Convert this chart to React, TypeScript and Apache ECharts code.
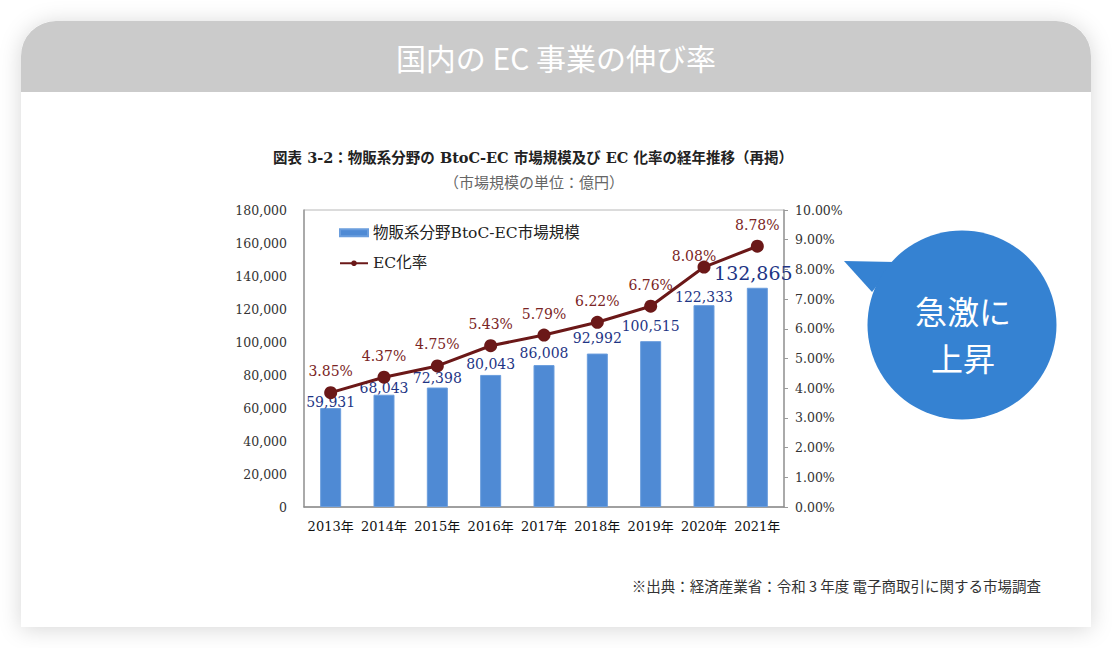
import React, { useEffect, useRef } from "react";
import * as echarts from "echarts";

const categories = ["2013年", "2014年", "2015年", "2016年", "2017年", "2018年", "2019年", "2020年", "2021年"];
const marketSize = [59931, 68043, 72398, 80043, 86008, 92992, 100515, 122333, 132865];
const ecRate = [3.85, 4.37, 4.75, 5.43, 5.79, 6.22, 6.76, 8.08, 8.78];
const barLabelLift = [-1, 0, 3, 4, 5, 9, 8, 1, 5];

const headerTitle = "国内の EC 事業の伸び率";
const chartTitle = "図表 3-2：物販系分野の BtoC-EC 市場規模及び EC 化率の経年推移（再掲）";
const chartSubtitle = "（市場規模の単位：億円）";
const barName = "物販系分野BtoC-EC市場規模";
const lineName = "EC化率";
const sourceText = "※出典：経済産業省：令和 3 年度 電子商取引に関する市場調査";
const calloutLines = ["急激に", "上昇"];

const SERIF = "'DejaVu Serif', 'Noto Sans CJK JP', serif";
const SANS = "'Noto Sans CJK JP', 'Noto Sans', sans-serif";

export default function App() {
  const ref = useRef<HTMLDivElement>(null);
  useEffect(() => {
    if (!ref.current) return;
    const chart = echarts.init(ref.current, null, { renderer: "svg" });
    const fmt = (v: number) => v.toLocaleString("en-US");
    chart.setOption({
      animation: false,
      backgroundColor: "#ffffff",
      graphic: [
        {
          type: "rect",
          z: -10,
          shape: { x: 21, y: 21, width: 1070, height: 606, r: [35, 35, 0, 0] },
          style: { fill: "#ffffff", shadowBlur: 22, shadowColor: "rgba(0,0,0,0.16)", shadowOffsetY: 2 },
        },
        {
          type: "rect",
          z: -9,
          shape: { x: 21, y: 21, width: 1070, height: 71, r: [35, 35, 0, 0] },
          style: { fill: "#cbcbcb" },
        },
        {
          type: "text",
          x: 556,
          y: 57,
          style: {
            text: headerTitle,
            fill: "#ffffff",
            font: `normal 30px ${SANS}`,
            align: "center",
            verticalAlign: "middle",
          },
        },
        {
          type: "text",
          x: 533,
          y: 157,
          style: {
            text: chartTitle,
            fill: "#222222",
            font: `bold 14.5px ${SERIF}`,
            align: "center",
            verticalAlign: "middle",
          },
        },
        {
          type: "text",
          x: 534,
          y: 183,
          style: {
            text: chartSubtitle,
            fill: "#666666",
            font: `normal 15px ${SERIF}`,
            align: "center",
            verticalAlign: "middle",
          },
        },
        {
          type: "text",
          x: 1041,
          y: 585,
          style: {
            text: sourceText,
            fill: "#333333",
            font: `normal 14.5px ${SANS}`,
            align: "right",
            verticalAlign: "middle",
          },
        },
        {
          type: "polygon",
          z: 20,
          shape: { points: [[844, 261], [895, 262], [872, 292]] },
          style: { fill: "#3582d2" },
        },
        {
          type: "circle",
          z: 20,
          shape: { cx: 962, cy: 325, r: 94.5 },
          style: { fill: "#3582d2" },
        },
        {
          type: "text",
          z: 21,
          x: 963,
          y: 310,
          style: {
            text: calloutLines[0],
            fill: "#ffffff",
            font: `normal 32px ${SANS}`,
            align: "center",
            verticalAlign: "middle",
          },
        },
        {
          type: "text",
          z: 21,
          x: 963,
          y: 357,
          style: {
            text: calloutLines[1],
            fill: "#ffffff",
            font: `normal 32px ${SANS}`,
            align: "center",
            verticalAlign: "middle",
          },
        },
      ],
      legend: {
        orient: "vertical",
        left: 334,
        top: 220,
        itemGap: 15,
        itemWidth: 28,
        itemHeight: 7,
        textStyle: { fontFamily: SERIF, fontSize: 15.5, color: "#222222" },
        data: [
          { name: barName, icon: "rect", itemStyle: { color: "#4f8ad4" } },
          { name: lineName },
        ],
      },
      grid: {
        left: 304,
        right: 328,
        top: 210,
        bottom: 141,
        show: true,
        borderColor: "#b8b8b8",
        borderWidth: 1,
        containLabel: false,
      },
      xAxis: {
        type: "category",
        data: categories,
        axisTick: { show: false },
        axisLine: { lineStyle: { color: "#8c8c8c", width: 1.5 } },
        axisLabel: { interval: 0, fontFamily: SERIF, fontSize: 13, color: "#111111", margin: 13 },
      },
      yAxis: [
        {
          type: "value",
          min: 0,
          max: 180000,
          interval: 20000,
          splitLine: { show: false },
          axisLine: { show: true, lineStyle: { color: "#9a9a9a", width: 1.5 } },
          axisTick: { show: false },
          axisLabel: {
            fontFamily: SERIF,
            fontSize: 12.5,
            color: "#333333",
            margin: 17,
            formatter: (v: number) => fmt(v),
          },
        },
        {
          type: "value",
          min: 0,
          max: 10,
          interval: 1,
          position: "right",
          splitLine: { show: false },
          axisLine: { show: true, lineStyle: { color: "#9a9a9a", width: 1.5 } },
          axisTick: { show: true, length: 4, lineStyle: { color: "#9a9a9a" } },
          axisLabel: {
            fontFamily: SERIF,
            fontSize: 12.5,
            color: "#333333",
            margin: 11,
            formatter: (v: number) => v.toFixed(2) + "%",
          },
        },
      ],
      series: [
        {
          name: barName,
          type: "bar",
          barWidth: 21,
          yAxisIndex: 0,
          itemStyle: { color: "#4f8ad4", borderColor: "#6a9ddd", borderWidth: 1 },
          data: marketSize.map((v, i) => ({
            value: v,
            label:
              i === marketSize.length - 1
                ? { distance: barLabelLift[i], fontSize: 19, offset: [-4, 0] }
                : { distance: barLabelLift[i] },
          })),
          label: {
            show: true,
            position: "top",
            fontFamily: SERIF,
            fontSize: 14,
            color: "#1e3585",
            formatter: (p: any) => fmt(p.value),
          },
          z: 2,
        },
        {
          name: lineName,
          type: "line",
          yAxisIndex: 1,
          symbol: "circle",
          symbolSize: 13,
          lineStyle: { color: "#6b1818", width: 3 },
          itemStyle: { color: "#6b1818" },
          data: ecRate.map((v, i) => ({
            value: v,
            label: i === 7 ? { offset: [-10, 10] } : {},
          })),
          label: {
            show: true,
            position: "top",
            distance: 8,
            fontFamily: SERIF,
            fontSize: 14,
            color: "#7a2424",
            formatter: (p: any) => p.value.toFixed(2) + "%",
          },
          z: 5,
        },
      ],
    });
    return () => chart.dispose();
  }, []);
  return (
    <div
      ref={ref}
      style={{ position: "absolute", left: 0, top: 0, width: 1112, height: 648 }}
    />
  );
}
